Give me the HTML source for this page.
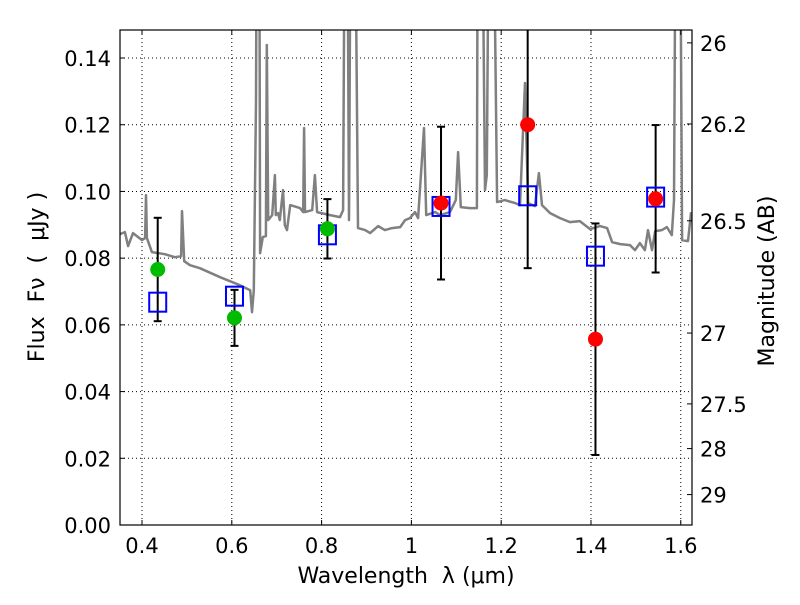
<!DOCTYPE html>
<html><head><meta charset="utf-8"><style>
body{margin:0;background:#fff;}
svg text{font-family:"DejaVu Sans","Liberation Sans",sans-serif;fill:#000;white-space:pre;}
</style></head><body>
<svg id="chart" width="800" height="600" xmlns="http://www.w3.org/2000/svg">
<g id="grid"></g>
<g id="spec"></g>
<g id="pts"></g>
<g id="axes"></g>
</svg>
<script>
const specLam=[0.351,0.362,0.369,0.380,0.400,0.407,0.409,0.411,0.422,0.451,0.473,0.487,0.489,0.494,0.507,0.529,0.574,0.618,0.641,0.645,0.649,0.654,0.656,0.661,0.663,0.669,0.676,0.678,0.681,0.690,0.696,0.698,0.703,0.707,0.714,0.718,0.723,0.730,0.752,0.759,0.761,0.763,0.779,0.785,0.790,0.819,0.841,0.848,0.852,0.857,0.861,0.865,0.874,0.881,0.897,0.908,0.926,0.941,0.957,0.975,0.986,0.997,1.008,1.015,1.028,1.033,1.053,1.064,1.086,1.099,1.104,1.110,1.130,1.146,1.148,1.157,1.164,1.168,1.173,1.182,1.191,1.208,1.231,1.242,1.253,1.260,1.275,1.284,1.291,1.309,1.331,1.353,1.375,1.398,1.420,1.436,1.447,1.465,1.487,1.498,1.509,1.520,1.527,1.536,1.543,1.558,1.569,1.580,1.585,1.589,1.598,1.603,1.616,1.623];
const specFlux=[0.0872,0.0878,0.0836,0.0875,0.0854,0.0860,0.0989,0.0860,0.0818,0.0812,0.0803,0.0806,0.0941,0.0791,0.0779,0.0770,0.0743,0.0719,0.0704,0.0638,0.0704,0.127,0.2,0.2,0.0815,0.0863,0.0866,0.1439,0.0914,0.0929,0.1049,0.0929,0.0935,0.0914,0.1004,0.0899,0.0884,0.0959,0.0950,0.0938,0.119,0.0938,0.0944,0.1049,0.0938,0.0929,0.0923,0.0944,0.2,0.2,0.0914,0.2,0.2,0.0890,0.0884,0.0875,0.0896,0.0884,0.0890,0.0893,0.0914,0.0920,0.0938,0.0920,0.119,0.0929,0.0938,0.0929,0.0938,0.0974,0.1118,0.0953,0.0950,0.0950,0.2,0.2,0.1004,0.1049,0.2,0.2,0.0968,0.0974,0.0965,0.0959,0.1325,0.0965,0.0956,0.1055,0.0959,0.0935,0.0920,0.0908,0.0911,0.0887,0.0896,0.0890,0.0848,0.0842,0.0839,0.0824,0.0845,0.0824,0.0884,0.0824,0.0881,0.0884,0.0893,0.0869,0.0974,0.2,0.2,0.0854,0.0851,0.0938];
const modelLam=[0.435,0.606,0.813,1.066,1.259,1.41,1.544];
const modelFlux=[0.0668,0.0686,0.0870,0.0955,0.0987,0.0806,0.0983];
const obsLam=[0.435,0.606,0.813,1.066,1.259,1.41,1.544];
const obsFlux=[0.0766,0.0621,0.0888,0.0965,0.120,0.0557,0.0978];
const obsErr=[0.0155,0.0084,0.0089,0.0229,0.0430,0.0347,0.0221];
const obsColor=['#00bb00','#00bb00','#00bb00','#ff0000','#ff0000','#ff0000','#ff0000'];
const xTicks=[0.4,0.6,0.8,1.0,1.2,1.4,1.6];
const xTickLabels=['0.4','0.6','0.8','1','1.2','1.4','1.6'];
const yTicks=[0,0.02,0.04,0.06,0.08,0.10,0.12,0.14];
const yTickLabels=['0.00','0.02','0.04','0.06','0.08','0.10','0.12','0.14'];
const magTicks=[26,26.2,26.5,27,27.5,28,29];

const L=120,R=692,T=30,B=525;
const xMin=0.351,xMax=1.625,yMin=0,yMax=0.1484;
const X=v=>L+(v-xMin)/(xMax-xMin)*(R-L);
const Y=v=>B-(v-yMin)/(yMax-yMin)*(B-T);
const NS='http://www.w3.org/2000/svg';
function mk(p,tag,attrs){const e=document.createElementNS(NS,tag);for(const k in attrs)e.setAttribute(k,attrs[k]);p.appendChild(e);return e;}
const grid=document.getElementById('grid'),spec=document.getElementById('spec'),pts=document.getElementById('pts'),axes=document.getElementById('axes');
mk(grid,'clipPath',{id:'clip'}).appendChild(document.createElementNS(NS,'rect'));
const cr=document.querySelector('#clip rect');cr.setAttribute('x',L);cr.setAttribute('y',T);cr.setAttribute('width',R-L);cr.setAttribute('height',B-T);
const TF=21;
xTicks.forEach((t,i)=>{
 const g=mk(grid,'line',{x1:X(t),x2:X(t),y1:T,y2:B,stroke:'#000','stroke-width':1,'stroke-dasharray':'1,3'});
 
 
 mk(axes,'line',{x1:X(t),x2:X(t),y1:B,y2:B-5,stroke:'#000'});
 mk(axes,'line',{x1:X(t),x2:X(t),y1:T,y2:T+5,stroke:'#000'});
 const tx=mk(axes,'text',{x:X(t),y:B+28,'font-size':TF,'text-anchor':'middle'});tx.textContent=xTickLabels[i];
 
 
});
yTicks.forEach((t,i)=>{
 if(t>0){const g=mk(grid,'line',{x1:L,x2:R,y1:Y(t),y2:Y(t),stroke:'#000','stroke-width':1,'stroke-dasharray':'1,3'});
 
 }
 mk(axes,'line',{x1:L,x2:L+5,y1:Y(t),y2:Y(t),stroke:'#000'});
 const tx=mk(axes,'text',{x:L-9,y:Y(t)+8,'font-size':TF,'text-anchor':'end'});tx.textContent=yTickLabels[i];
 
 
});
magTicks.forEach(m=>{
 const f=Math.pow(10,-0.4*(m-23.9));const y=Y(f);
 mk(axes,'line',{x1:R,x2:R-5,y1:y,y2:y,stroke:'#000'});
 const tx=mk(axes,'text',{x:R+8,y:y+8,'font-size':TF});tx.textContent=String(m);
 
 
});
let d='';specLam.forEach((l,i)=>{d+=(i?'L':'M')+X(l).toFixed(1)+','+Y(specFlux[i]).toFixed(1);});
const sp=mk(spec,'path',{d:d,fill:'none',stroke:'#808080','stroke-width':2.5,'clip-path':'url(#clip)','stroke-linejoin':'round'});


obsLam.forEach((l,i)=>{
 const x=X(l),y1=Y(obsFlux[i]-obsErr[i]),y2=Y(obsFlux[i]+obsErr[i]);
 const g=mk(pts,'g',{'clip-path':'url(#clip)'});
 
 
 mk(g,'line',{x1:x,x2:x,y1:y1,y2:y2,stroke:'#000','stroke-width':2});
 mk(g,'line',{x1:x-4,x2:x+4,y1:y1,y2:y1,stroke:'#000','stroke-width':2});
 mk(g,'line',{x1:x-4,x2:x+4,y1:y2,y2:y2,stroke:'#000','stroke-width':2});
});
modelLam.forEach((l,i)=>{
 const r=mk(pts,'rect',{x:X(l)-8.5,y:Y(modelFlux[i])-9.5,width:17,height:19,fill:'none',stroke:'#0000ff','stroke-width':2});
 
 
});
obsLam.forEach((l,i)=>{
 const c=mk(pts,'circle',{cx:X(l),cy:Y(obsFlux[i]),r:7.5,fill:obsColor[i]});
 
 
});
const fr=mk(axes,'rect',{x:L,y:T,width:R-L,height:B-T,fill:'none',stroke:'#000','stroke-width':1.2});


const xl=mk(axes,'text',{x:406,y:583,'font-size':22,'text-anchor':'middle'});
xl.textContent='Wavelength  λ (μm)';


const yl=mk(axes,'text',{x:44,y:277,'font-size':22,'text-anchor':'middle',transform:'rotate(-90 44 277)'});
yl.textContent='Flux  Fν  (  μJy )';


const ml=mk(axes,'text',{x:774,y:281,'font-size':22,'text-anchor':'middle',transform:'rotate(-90 774 281)'});
ml.textContent='Magnitude (AB)';


</script>
</body></html>
